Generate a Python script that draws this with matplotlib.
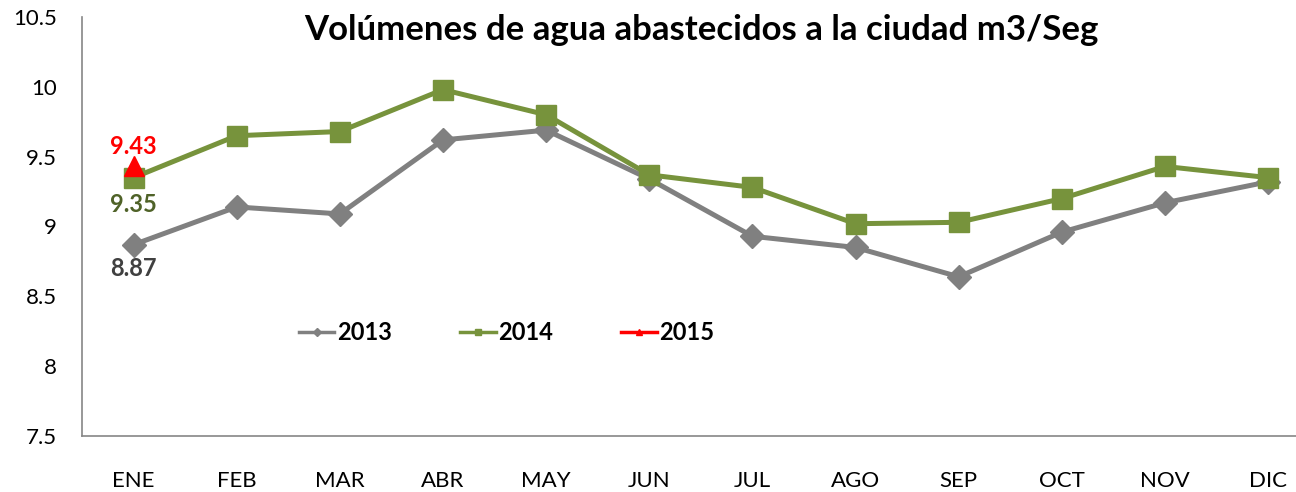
import matplotlib
matplotlib.use("Agg")
import matplotlib.pyplot as plt

months = ["ENE", "FEB", "MAR", "ABR", "MAY", "JUN", "JUL", "AGO", "SEP", "OCT", "NOV", "DIC"]
v2013 = [8.87, 9.14, 9.09, 9.62, 9.69, 9.34, 8.93, 8.85, 8.64, 8.96, 9.17, 9.32]
v2014 = [9.35, 9.65, 9.68, 9.98, 9.80, 9.37, 9.28, 9.02, 9.03, 9.20, 9.43, 9.35]
v2015 = [9.43]
yticks = [7.5, 8, 8.5, 9, 9.5, 10, 10.5]
ytick_labels = ["7.5", "8", "8.5", "9", "9.5", "10", "10.5"]

plt.rcParams['font.family'] = ['Lato', 'DejaVu Sans']

fig = plt.figure(figsize=(12.96, 4.92), dpi=100)
ax = fig.add_axes([82/1296, 1-436/492, 1-82/1296, (436-17)/492])

x = list(range(len(months)))
ax.plot(x, v2013, color="#808080", lw=3.6, marker="D", ms=12, label="2013", zorder=2)
ax.plot(x, v2014, color="#77933C", lw=3.6, marker="s", ms=14, label="2014", zorder=3)
ax.plot(x[:len(v2015)], v2015, color="#FF0000", lw=3.6, marker="^", ms=14, label="2015", zorder=4)

ax.annotate(f"{v2015[0]:.2f}", (0, v2015[0]), xytext=(0, 6), textcoords="offset points",
            ha="center", va="bottom", color="#FF0000", fontsize=17, fontweight="bold")
ax.annotate(f"{v2014[0]:.2f}", (0, v2014[0]), xytext=(0, -11), textcoords="offset points",
            ha="center", va="top", color="#4F6228", fontsize=17, fontweight="bold")
ax.annotate(f"{v2013[0]:.2f}", (0, v2013[0]), xytext=(0, -9), textcoords="offset points",
            ha="center", va="top", color="#404040", fontsize=17, fontweight="bold")

ax.set_xlim(-0.5, 11.27)
ax.set_ylim(7.5, 10.5)
ax.set_yticks(yticks)
ax.set_yticklabels(ytick_labels)
ax.set_xticks(x)
ax.set_xticklabels(months)
ax.tick_params(axis="both", length=0, labelsize=16, colors="#000000")
ax.tick_params(axis="x", pad=25)
ax.tick_params(axis="y", pad=18)
for s in ["top", "right"]:
    ax.spines[s].set_visible(False)
for s in ["left", "bottom"]:
    ax.spines[s].set_color("#868686")
    ax.spines[s].set_linewidth(1.2)

fig.text(701/1296, 1-30/492, "Volúmenes de agua abastecidos a la ciudad m3/Seg",
         ha="center", va="center", fontsize=25, fontweight="bold", color="#000000")

handles = [
    plt.Line2D([], [], color="#808080", lw=2.5, marker="D", ms=4),
    plt.Line2D([], [], color="#77933C", lw=2.5, marker="s", ms=5),
    plt.Line2D([], [], color="#FF0000", lw=2.5, marker="^", ms=5),
]
leg = fig.legend(handles, ["2013", "2014", "2015"], loc="center left",
                 bbox_to_anchor=(299/1296, 1-333/492), ncol=3, frameon=False,
                 handlelength=1.5, handletextpad=0.1, columnspacing=2.9,
                 borderpad=0, borderaxespad=0,
                 prop={"weight": "bold", "size": 17})

fig.savefig("out.png", dpi=100)
